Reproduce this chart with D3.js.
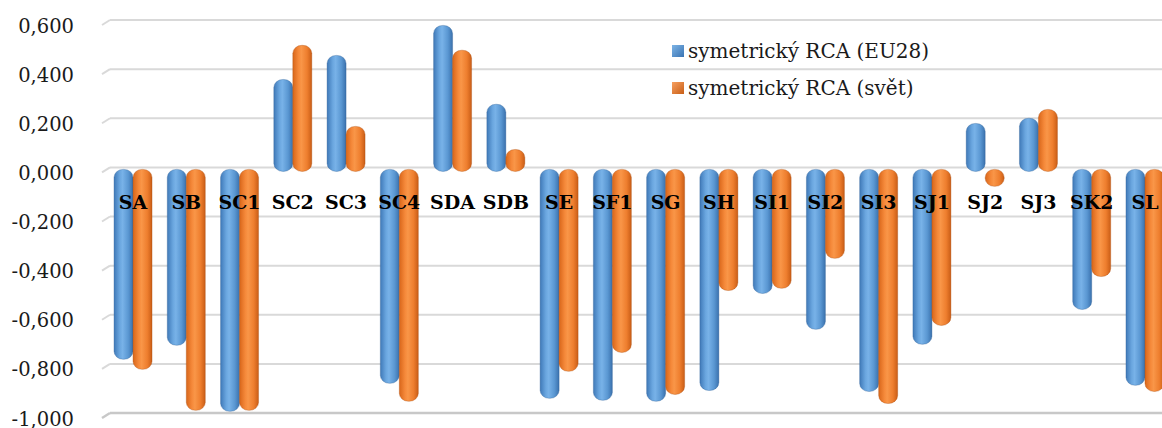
<!DOCTYPE html>
<html>
<head>
<meta charset="utf-8">
<script src="https://cdn.jsdelivr.net/npm/d3@7/dist/d3.min.js"></script>
<style>
  html, body { margin: 0; padding: 0; background: #fff; }
  svg { display: block; }
</style>
</head>
<body>
<svg id="chart" width="1162" height="428"></svg>
<script>
const categories = ["SA","SB","SC1","SC2","SC3","SC4","SDA","SDB","SE","SF1","SG","SH","SI1","SI2","SI3","SJ1","SJ2","SJ3","SK2","SL"];
const eu28Values = [-0.765,-0.708,-0.977,0.366,0.464,-0.863,0.586,0.265,-0.924,-0.932,-0.936,-0.892,-0.497,-0.643,-0.896,-0.704,0.187,0.208,-0.562,-0.871];
const worldValues = [-0.806,-0.973,-0.973,0.505,0.175,-0.936,0.485,0.081,-0.814,-0.737,-0.908,-0.485,-0.476,-0.354,-0.945,-0.627,-0.061,0.244,-0.428,-0.896];
const seriesNames = ["symetrický RCA (EU28)", "symetrický RCA (svět)"];
const tickValues = [0.6,0.4,0.2,0,-0.2,-0.4,-0.6,-0.8,-1.0];
const tickLabels = ["0,600","0,400","0,200","0,000","-0,200","-0,400","-0,600","-0,800","-1,000"];

const svg = d3.select("#chart");
const W = 1162, H = 428;

const y = d3.scaleLinear().domain([-1, 0.6]).range([413, 20]);
const x = d3.scaleBand().domain(categories).range([106.4, 1171.6]).paddingInner(0).paddingOuter(0);
const barW = 19;
const front = 4; // perspective offset of the bars in front of the back wall

const defs = svg.append("defs");
function cylGrad(id, stops) {
  const g = defs.append("linearGradient").attr("id", id).attr("x1", "0").attr("x2", "1").attr("y1", "0").attr("y2", "0");
  stops.forEach(s => g.append("stop").attr("offset", s[0]).attr("stop-color", s[1]));
}
cylGrad("gBlue", [[0, "#3f79b8"], [0.3, "#6aa6df"], [0.45, "#78b2e8"], [0.75, "#5a97d2"], [1, "#3a71ad"]]);
cylGrad("gOrange", [[0, "#d8661a"], [0.3, "#f5893a"], [0.45, "#f99648"], [0.75, "#ee7e2e"], [1, "#c95d16"]]);
const legBlue = defs.append("linearGradient").attr("id", "lBlue").attr("x1", 0).attr("x2", 1).attr("y1", 0).attr("y2", 1);
legBlue.append("stop").attr("offset", 0).attr("stop-color", "#7db4e6");
legBlue.append("stop").attr("offset", 1).attr("stop-color", "#3a74b3");
const legOr = defs.append("linearGradient").attr("id", "lOrange").attr("x1", 0).attr("x2", 1).attr("y1", 0).attr("y2", 1);
legOr.append("stop").attr("offset", 0).attr("stop-color", "#f7a060");
legOr.append("stop").attr("offset", 1).attr("stop-color", "#c85e17");

// gridlines (back wall + small side-wall diagonal)
const grid = svg.append("g");
tickValues.forEach((v, i) => {
  const yy = y(v);
  const isFloor = v === -1;
  const col = isFloor ? "#c8c8c8" : "#d9d9d9";
  grid.append("line").attr("x1", 110).attr("x2", W).attr("y1", yy).attr("y2", yy)
    .attr("stroke", col).attr("stroke-width", isFloor ? 2.5 : 2);
  grid.append("line").attr("x1", 102).attr("x2", 110).attr("y1", yy + 5).attr("y2", yy)
    .attr("stroke", col).attr("stroke-width", isFloor ? 2.5 : 2);
});

// y tick labels
svg.append("g").selectAll("text").data(tickValues).join("text")
  .attr("x", 74).attr("y", (d) => y(d) + 6)
  .attr("text-anchor", "end").attr("dominant-baseline", "central")
  .attr("font-family", "'DejaVu Serif', serif").attr("font-size", 19.5).attr("fill", "#1a1a1a")
  .text((d, i) => tickLabels[i]);

// bars
const series = [
  { vals: eu28Values, fill: "url(#gBlue)", stroke: "#2f5f95", off: -barW },
  { vals: worldValues, fill: "url(#gOrange)", stroke: "#a84e12", off: 0 }
];
const bars = svg.append("g");
series.forEach(s => {
  bars.selectAll(null).data(categories).join("rect")
    .attr("x", (c) => x(c) + x.bandwidth() / 2 + s.off)
    .attr("width", barW)
    .attr("y", (c, i) => Math.min(y(s.vals[i]), y(0)) + front - 2)
    .attr("height", (c, i) => Math.max(Math.abs(y(s.vals[i]) - y(0)) + 2, 14))
    .attr("rx", 9).attr("ry", 8)
    .attr("fill", s.fill)
    .attr("stroke", s.stroke).attr("stroke-opacity", 0.35).attr("stroke-width", 1);
});

// category labels
svg.append("g").selectAll("text").data(categories).join("text")
  .attr("x", (c) => x(c) + x.bandwidth() / 2)
  .attr("y", 202)
  .attr("text-anchor", "middle").attr("dominant-baseline", "central")
  .attr("font-family", "'DejaVu Serif', serif").attr("font-weight", "bold").attr("font-size", 19)
  .attr("fill", "#000")
  .text((c) => c);

// legend
const legend = svg.append("g");
const legendFills = ["url(#lBlue)", "url(#lOrange)"];
seriesNames.forEach((name, i) => {
  const cy = 51 + i * 37;
  legend.append("rect").attr("x", 672).attr("y", cy - 6).attr("width", 12).attr("height", 12)
    .attr("fill", legendFills[i]);
  legend.append("text").attr("x", 688).attr("y", cy)
    .attr("dominant-baseline", "central")
    .attr("font-family", "'DejaVu Serif', serif").attr("font-size", 20).attr("fill", "#1a1a1a")
    .text(name);
});
</script>
</body>
</html>
